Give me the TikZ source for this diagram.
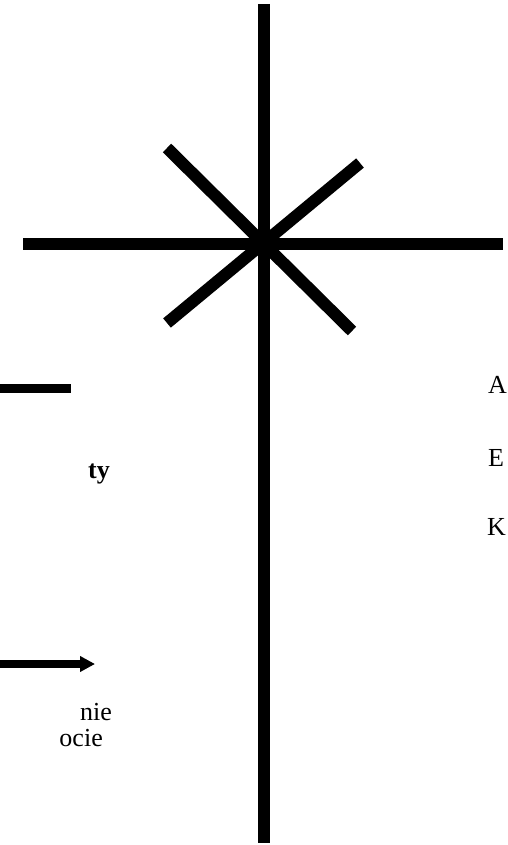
\documentclass[tikz,border=0pt]{standalone}
\usepackage{fontspec}
\setmainfont{Liberation Serif}
\usetikzlibrary{arrows.meta, positioning, calc}

\tikzset{
  beam/.style={line width=12pt, black},
  label/.style={font=\fontsize{26}{30}\selectfont, inner sep=0pt}
}

\begin{document}
\begin{tikzpicture}[x=1pt, y=-1pt]
  \useasboundingbox (0,0) rectangle (507,845);

  % Centre of the star
  \coordinate (hub) at (264,244);

  % Upright and cross beam
  \draw[beam] (264,4) -- (264,843);
  \draw[beam] (23,244) -- (503,244);

  % Diagonal rays
  \draw[beam] (167,148) -- (352,331);
  \draw[beam] (167,323) -- (360,163);

  % Left side marks
  \draw[line width=9pt] (0,388) -- (71,388);
  \draw[line width=8pt, -{Triangle[length=15pt, width=15pt]}] (0,664) -- (95,664);

  % Left side texts
  \node[label, font=\fontsize{26}{30}\selectfont\bfseries, anchor=base east] (ty) at (110,478) {ty};
  \node[label, anchor=base east] (nie) at (112,720) {nie};
  \node[label, anchor=base east] (ocie) at (103,746) {ocie};

  % Right side letters
  \node[label, anchor=base west] (a) at (488,393) {A};
  \node[label, anchor=base west] (e) at (488,466) {E};
  \node[label, anchor=base west] (k) at (487,535) {K};
\end{tikzpicture}
\end{document}
